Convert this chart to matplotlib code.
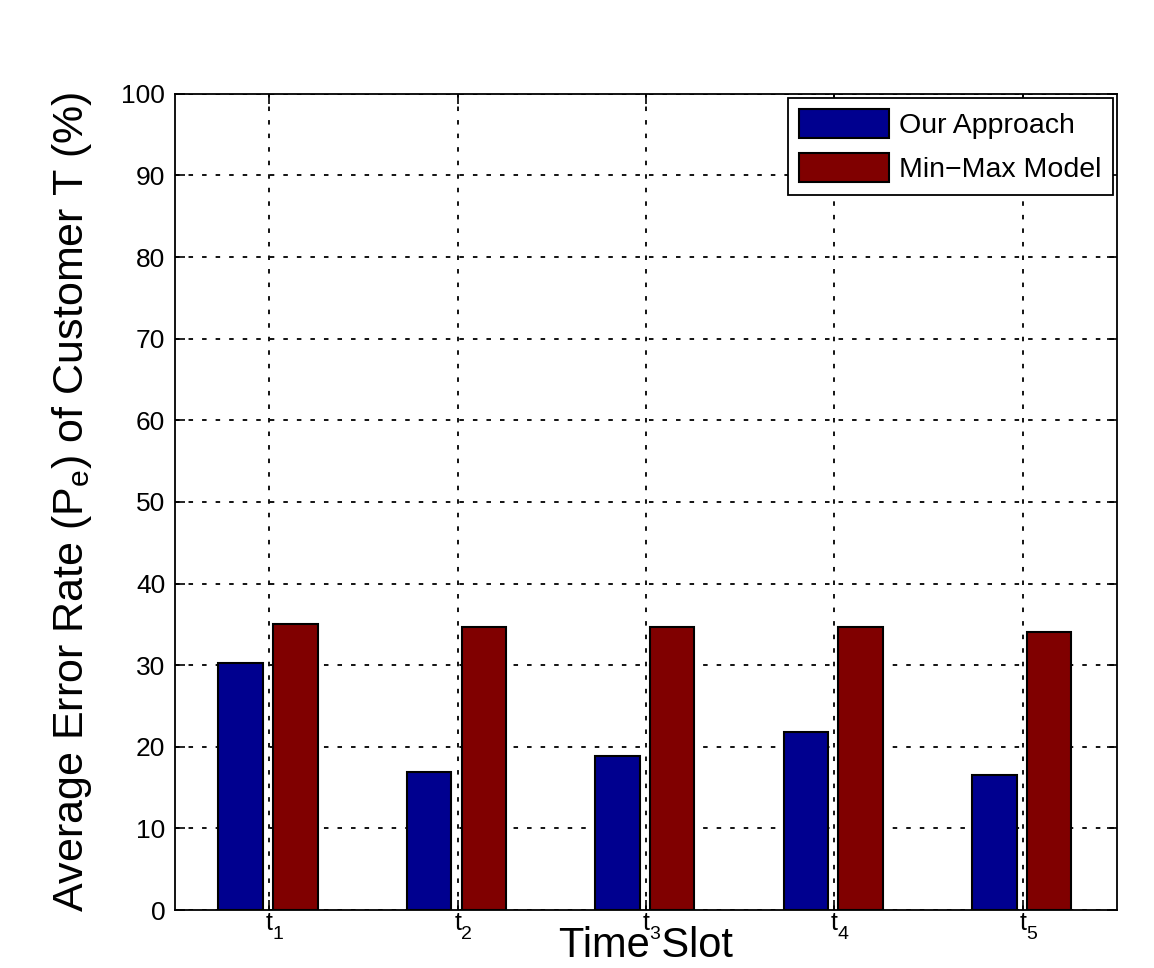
import numpy as np
import matplotlib.pyplot as plt
import matplotlib.transforms as mtransforms

plt.rcParams['font.family'] = ['Liberation Sans', 'DejaVu Sans']

slots = ['1', '2', '3', '4', '5']
our_approach = [30.3, 16.9, 18.9, 21.8, 16.6]
min_max = [35.0, 34.7, 34.7, 34.7, 34.1]

fig = plt.figure(figsize=(11.54, 9.68), dpi=100)
ax = fig.add_axes([0.1516, 0.0599, 0.8164, 0.8432])

x = np.arange(1, len(slots) + 1)
w = 0.236
ax.bar(x - 0.151, our_approach, w, color='#00008f', edgecolor='black', linewidth=1.5, label='Our Approach')
ax.bar(x + 0.139, min_max, w, color='#800000', edgecolor='black', linewidth=1.5, label='Min\u2212Max Model')

ax.set_xlim(0.5, 5.5)
ax.set_ylim(0, 100)
ax.set_yticks(np.arange(0, 101, 10))
ax.set_xticks(x)
ax.set_xticklabels(['t'] * len(slots), fontsize=18)
ax.tick_params(axis='both', direction='in', top=True, right=True, length=7, width=1.2)
ax.tick_params(axis='y', labelsize=19, pad=7)
ax.tick_params(axis='x', pad=1)

# subscripts under the "t" tick labels
trans = mtransforms.blended_transform_factory(ax.transData, ax.transAxes)
for xi, s in zip(x, slots):
    ax.text(xi + 0.045, -0.02, s, transform=trans, fontsize=14, ha='center', va='top')

ax.set_axisbelow(True)
ax.grid(True, color='black', linestyle=(0, (2.5, 5)), linewidth=1.3)
for sp in ax.spines.values():
    sp.set_linewidth(1.3)

ax.set_xlabel('Time Slot', fontsize=30, labelpad=-7)
ax.set_ylabel('Average Error Rate (P$_\\mathregular{e}$) of Customer T (%)', fontsize=31, labelpad=20)

leg = ax.legend(loc='upper right', fontsize=20.5, handlelength=3.15, handleheight=1.15,
                fancybox=False, framealpha=1, edgecolor='black', borderaxespad=0.15,
                labelspacing=0.5, handletextpad=0.35, borderpad=0.4)
leg.get_frame().set_linewidth(1.3)

fig.savefig('out.png', dpi=100)
